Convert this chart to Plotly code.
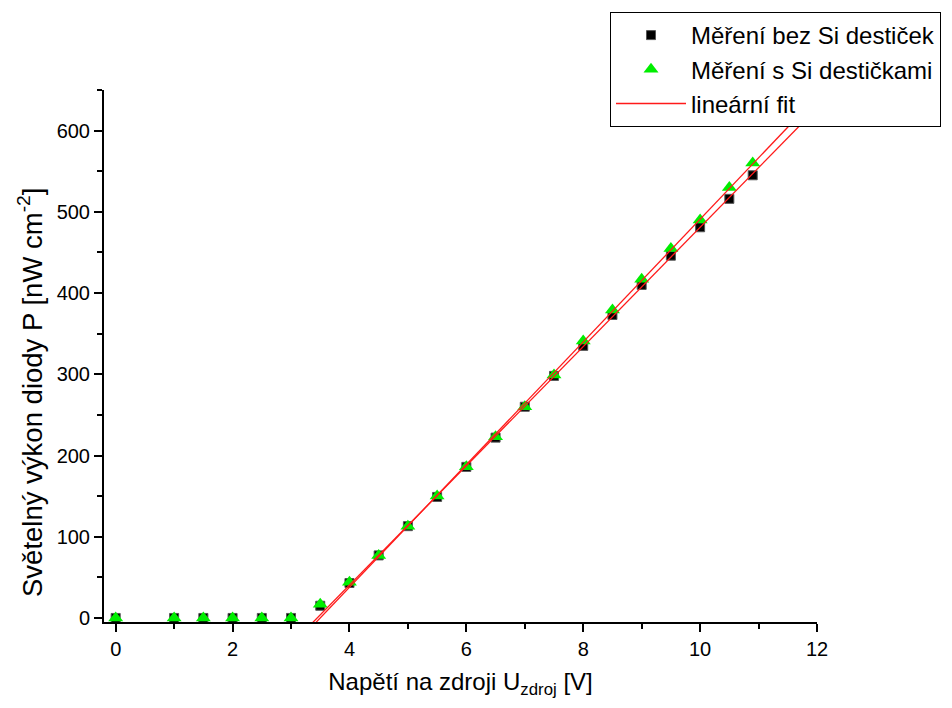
import numpy as np
import plotly.graph_objects as go

# Supply voltage [V]
u_bez = [0, 1, 1.5, 2, 2.5, 3, 3.5, 4, 4.5, 5, 5.5, 6, 6.5, 7, 7.5, 8, 8.5, 9, 9.5, 10, 10.5, 10.9]
p_bez = [0, 0, 0, 0, 0, 0, 15, 43, 77, 113, 149, 186, 222, 260, 298, 335, 373, 410, 446, 481, 516, 545]

u_si = [0, 1, 1.5, 2, 2.5, 3, 3.5, 4, 4.5, 5, 5.5, 6, 6.5, 7, 7.5, 8, 8.5, 9, 9.5, 10, 10.5, 10.9]
p_si = [0, 0, 0, 0, 0, 0, 17, 44, 77, 113, 150, 186, 223, 260, 299, 341, 379, 417, 455, 490, 530, 560]

# Linear region used for the fit
U_MIN_FIT = 4.0
fit_x = [3.3, 12.0]


def linear_fit(u, p):
    u = np.asarray(u, float)
    p = np.asarray(p, float)
    m = u >= U_MIN_FIT
    k, q = np.polyfit(u[m], p[m], 1)
    xs = np.array(fit_x)
    return xs, k * xs + q


fx1, fy1 = linear_fit(u_bez, p_bez)
fx2, fy2 = linear_fit(u_si, p_si)

font = "Liberation Sans, Arial, sans-serif"
RED = "#ff1a1a"

fig = go.Figure()
fig.add_trace(go.Scatter(x=u_bez, y=p_bez, mode="markers", name="Měření bez Si destiček",
                         marker=dict(symbol="square", size=9, color="black",
                                     line=dict(color="#555555", width=1))))
fig.add_trace(go.Scatter(x=u_si, y=p_si, mode="markers", name="Měření s Si destičkami",
                         marker=dict(symbol="triangle-up", size=13, color="#00ee00",
                                     line=dict(width=0))))
fig.add_trace(go.Scatter(x=fx1, y=fy1, mode="lines", line=dict(color=RED, width=1.3),
                         name="lineární fit", showlegend=True))
fig.add_trace(go.Scatter(x=fx2, y=fy2, mode="lines", line=dict(color=RED, width=1.3),
                         name="lineární fit", showlegend=False))

fig.update_layout(
    width=952, height=708,
    margin=dict(l=104, r=135, t=90, b=86, autoexpand=False),
    paper_bgcolor="white", plot_bgcolor="white",
    font=dict(family=font, size=20, color="black"),
    showlegend=True,
    legend=dict(x=(610 - 104) / 713, y=(622 - 12) / 532,
                xanchor="left", yanchor="top",
                bgcolor="white", bordercolor="black", borderwidth=1,
                font=dict(size=24), itemwidth=70, tracegroupgap=0),
    xaxis=dict(range=[-0.2, 12], showgrid=False, zeroline=False,
               showline=True, linecolor="black", linewidth=2,
               ticks="outside", tickwidth=2, ticklen=8, tickcolor="black",
               tick0=0, dtick=2,
               minor=dict(ticks="outside", ticklen=5, tickwidth=2, tickcolor="black", dtick=1),
               title=dict(text="Napětí na zdroji U<sub>zdroj</sub> [V]", font=dict(size=24), standoff=14)),
    yaxis=dict(range=[-5, 650], showgrid=False, zeroline=False,
               showline=True, linecolor="black", linewidth=2,
               ticks="outside", tickwidth=2, ticklen=8, tickcolor="black",
               tick0=0, dtick=100,
               minor=dict(ticks="outside", ticklen=5, tickwidth=2, tickcolor="black", dtick=50)),
    annotations=[dict(text="Světelný výkon diody P [nW cm<sup>-2</sup>]",
                      textangle=-90, showarrow=False,
                      xref="paper", yref="paper",
                      x=(30 - 104) / 713, y=(622 - 393) / 532,
                      xanchor="center", yanchor="middle",
                      font=dict(size=27.5))],
)

fig.write_html("out.html")
